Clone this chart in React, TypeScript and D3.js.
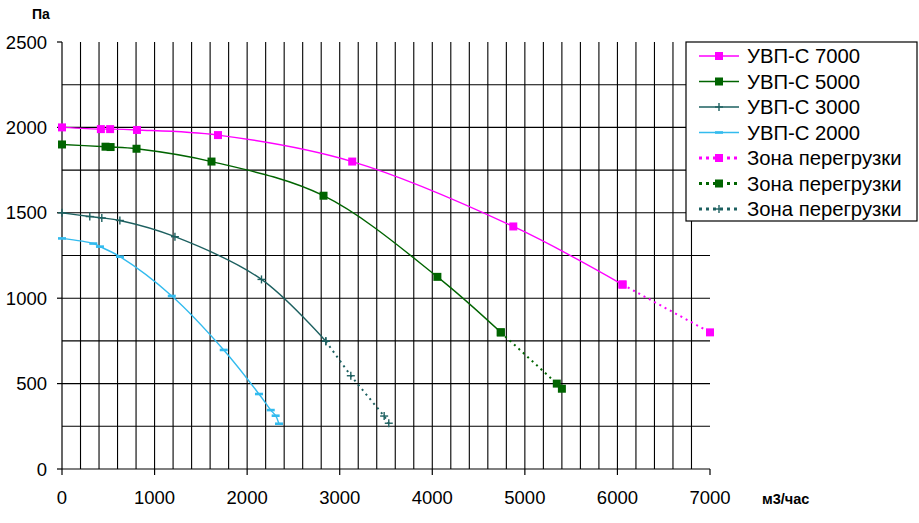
import React from "react";
import * as d3 from "d3";

// ---- data ----
const xTicks = [0, 1000, 2000, 3000, 4000, 5000, 6000, 7000];
const yTicks = [0, 500, 1000, 1500, 2000, 2500];

const flow7000 = [0, 420, 520, 810, 1685, 3135, 4875, 6055];
const pres7000 = [2000, 1990, 1990, 1985, 1955, 1800, 1420, 1080];
const flow7000Over = [6055, 7000];
const pres7000Over = [1080, 800];

const flow5000 = [0, 470, 525, 805, 1615, 2825, 4055, 4740];
const pres5000 = [1900, 1887, 1885, 1875, 1800, 1600, 1125, 800];
const flow5000Over = [4740, 5345, 5400];
const pres5000Over = [800, 500, 470];

const flow3000 = [0, 300, 430, 625, 1220, 2155, 2850];
const pres3000 = [1500, 1478, 1470, 1455, 1360, 1110, 748];
const flow3000Over = [2850, 3120, 3480, 3530];
const pres3000Over = [748, 546, 310, 268];

const flow2000 = [0, 338, 410, 626, 1186, 1747, 2128, 2255, 2308, 2344];
const pres2000 = [1350, 1320, 1302, 1243, 1013, 697, 439, 345, 312, 265];

const legendLabels = [
  "УВП-С 7000",
  "УВП-С 5000",
  "УВП-С 3000",
  "УВП-С 2000",
  "Зона перегрузки",
  "Зона перегрузки",
  "Зона перегрузки",
];

const C_MAG = "#ff00ff";
const C_GREEN = "#006400";
const C_TEAL = "#1d6060";
const C_BLUE = "#33bbee";

type Marker = "square" | "plus" | "dash";

interface Series {
  xs: number[];
  ys: number[];
  color: string;
  marker: Marker;
  dotted: boolean;
}

const series: Series[] = [
  { xs: flow7000, ys: pres7000, color: C_MAG, marker: "square", dotted: false },
  { xs: flow5000, ys: pres5000, color: C_GREEN, marker: "square", dotted: false },
  { xs: flow3000, ys: pres3000, color: C_TEAL, marker: "plus", dotted: false },
  { xs: flow2000, ys: pres2000, color: C_BLUE, marker: "dash", dotted: false },
  { xs: flow7000Over, ys: pres7000Over, color: C_MAG, marker: "square", dotted: true },
  { xs: flow5000Over, ys: pres5000Over, color: C_GREEN, marker: "square", dotted: true },
  { xs: flow3000Over, ys: pres3000Over, color: C_TEAL, marker: "plus", dotted: true },
];

const W = 919;
const H = 523;
const FONT = "'Liberation Sans', Arial, sans-serif";

function MarkerShape({ x, y, kind, color }: { x: number; y: number; kind: Marker; color: string }) {
  if (kind === "square") {
    return <rect x={x - 4} y={y - 4} width={8} height={8} fill={color} />;
  }
  if (kind === "plus") {
    return (
      <g stroke={color} strokeWidth={1.4}>
        <line x1={x - 4} x2={x + 4} y1={y} y2={y} />
        <line x1={x} x2={x} y1={y - 4} y2={y + 4} />
      </g>
    );
  }
  return <line x1={x - 4} x2={x + 4} y1={y} y2={y} stroke={color} strokeWidth={2.6} />;
}

export default function App() {
  const x = d3.scaleLinear().domain([0, 7000]).range([62, 710]);
  const y = d3.scaleLinear().domain([0, 2500]).range([469, 42]);

  const smooth = d3
    .line<[number, number]>()
    .x((d) => x(d[0]))
    .y((d) => y(d[1]))
    .curve(d3.curveCatmullRom.alpha(0.5));
  const straight = d3
    .line<[number, number]>()
    .x((d) => x(d[0]))
    .y((d) => y(d[1]));

  const hGrid = d3.range(250, 2500, 250);
  const vGrid = d3.range(200, 7000, 200);

  const lx0 = 699;
  const lx1 = 739;
  const rowY = (i: number) => 56 + i * 25.5;

  return (
    <div style={{ position: "absolute", left: 0, top: 0, width: W, height: H, background: "#fff" }}>
      <svg width={W} height={H} style={{ display: "block", fontFamily: FONT }}>
        <rect width={W} height={H} fill="#fff" />
        {/* grid */}
        <g stroke="#000" strokeWidth={1.1}>
          {hGrid.map((v) => (
            <line key={"h" + v} x1={x(0)} x2={x(7000)} y1={y(v)} y2={y(v)} />
          ))}
          {vGrid.map((v) => (
            <line key={"v" + v} x1={x(v)} x2={x(v)} y1={y(0)} y2={y(2500)} />
          ))}
        </g>
        {/* axes */}
        <g stroke="#000" strokeWidth={1.2}>
          <line x1={x(0)} x2={x(0)} y1={y(0)} y2={y(2500)} />
          <line x1={x(0)} x2={x(7000)} y1={y(0)} y2={y(0)} />
          {yTicks.map((v) => (
            <line key={"yt" + v} x1={x(0) - 5} x2={x(0)} y1={y(v)} y2={y(v)} />
          ))}
          {xTicks.map((v) => (
            <line key={"xt" + v} x1={x(v)} x2={x(v)} y1={y(0)} y2={y(0) + 6} />
          ))}
        </g>
        <g fontSize={18.5} fill="#000">
          {yTicks.map((v) => (
            <text key={"yl" + v} x={47} y={y(v)} dy="0.36em" textAnchor="end">
              {v}
            </text>
          ))}
          {xTicks.map((v) => (
            <text key={"xl" + v} x={x(v)} y={504} textAnchor="middle">
              {v}
            </text>
          ))}
        </g>
        <text x={32} y={19} fontSize={14} fontWeight="bold">
          Па
        </text>
        <text x={762} y={504} fontSize={14.5} fontWeight="bold">
          м3/час
        </text>

        {/* series */}
        {series.map((s, i) => {
          const pts = s.xs.map((v, j) => [v, s.ys[j]] as [number, number]);
          return (
            <g key={"s" + i}>
              <path
                d={(s.dotted ? straight(pts) : smooth(pts)) || ""}
                fill="none"
                stroke={s.color}
                strokeWidth={s.dotted ? 2 : 1.4}
                strokeDasharray={s.dotted ? "2,4" : undefined}
              />
              {pts.map((p, j) => (
                <MarkerShape key={j} x={x(p[0])} y={y(p[1])} kind={s.marker} color={s.color} />
              ))}
            </g>
          );
        })}

        {/* legend */}
        <rect x={686} y={42} width={231} height={179} fill="#fff" stroke="#000" strokeWidth={1.2} />
        {series.map((s, i) => (
          <g key={"l" + i}>
            <line
              x1={lx0}
              x2={lx1}
              y1={rowY(i)}
              y2={rowY(i)}
              stroke={s.color}
              strokeWidth={s.dotted ? 3 : 1.4}
              strokeDasharray={s.dotted ? "3,4" : undefined}
            />
            <MarkerShape x={(lx0 + lx1) / 2} y={rowY(i)} kind={s.marker} color={s.color} />
            <text x={747} y={rowY(i)} dy="0.36em" fontSize={20.3}>
              {legendLabels[i]}
            </text>
          </g>
        ))}
      </svg>
    </div>
  );
}
